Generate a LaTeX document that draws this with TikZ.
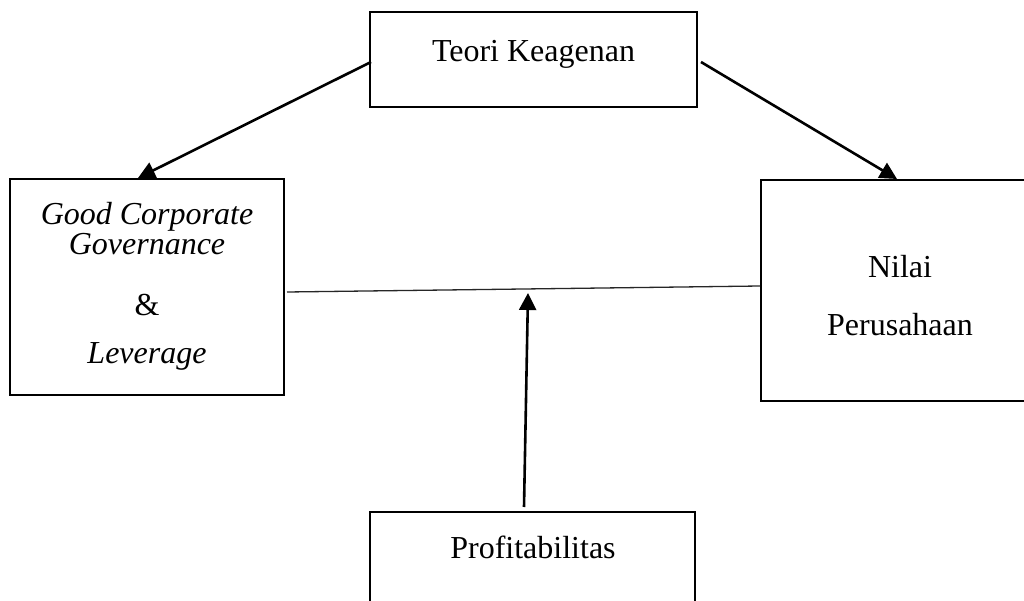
\documentclass[tikz,border=0pt]{standalone}
\usepackage{fontspec}
\setmainfont{Liberation Serif}
\usetikzlibrary{arrows.meta,calc}
\tikzset{
  boxnode/.style={draw=black, line width=2pt, rectangle, inner sep=0pt},
  txt/.style={anchor=base, inner sep=0pt, font=\fontsize{32}{36}\selectfont},
  arrowline/.style={line width=2.6pt, -{Triangle[length=17pt,width=17pt]}},
  thinline/.style={line width=1.3pt, draw=black!85}
}
\begin{document}
\begin{tikzpicture}[x=1pt,y=-1pt]
\clip (0,0) rectangle (1024,601);
\fill[white] (0,0) rectangle (1024,601);
% boxes
\node[boxnode, minimum width=327pt, minimum height=95pt] (teori) at (533.5,59.5) {};
\node[boxnode, minimum width=274pt, minimum height=216pt] (gcg) at (147,287) {};
\node[boxnode, minimum width=279pt, minimum height=221pt] (nilai) at (900.5,290.5) {};
\node[boxnode, minimum width=325pt, minimum height=108pt] (prof) at (532.5,566) {};
% texts
\node[txt] (tteori) at (533.5,62) {Teori Keagenan};
\node[txt] (tg1) at (147,225) {\itshape Good Corporate};
\node[txt] (tg2) at (147,255) {\itshape Governance};
\node[txt] (tg3) at (147,315) {\&};
\node[txt] (tg4) at (147,363) {\itshape Leverage};
\node[txt] (tn1) at (900,278) {Nilai};
\node[txt] (tn2) at (900,335) {Perusahaan};
\node[txt] (tp) at (533,558) {Profitabilitas};
% connectors
\coordinate (m) at (528,293);
\draw[arrowline] ($(teori.west)+(2,2.5)$) -- ($(gcg.north)+(-9,0)$);
\draw[arrowline] ($(teori.east)+(3,2.5)$) -- ($(nilai.north)+(-3.5,0)$);
\draw[thinline] ($(gcg.east)+(2,5)$) -- ($(nilai.west)+(0,-4.5)$);
\draw[arrowline] ($(prof.north)+(-8.5,-4)$) -- (m);
\end{tikzpicture}
\end{document}
